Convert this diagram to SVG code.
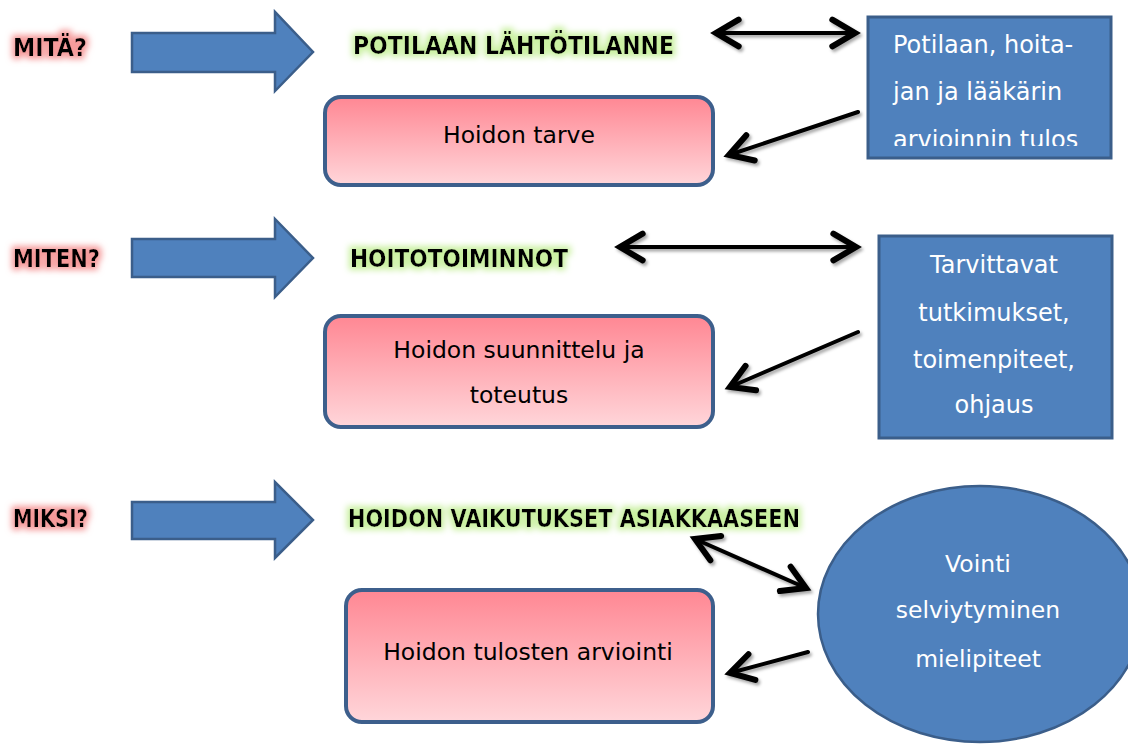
<svg xmlns="http://www.w3.org/2000/svg" width="1128" height="747" viewBox="0 0 1128 747">
<defs>
  <style>
    .lbl { font-family: "DejaVu Sans", "Liberation Sans", sans-serif; font-weight: bold; font-size: 25px; fill: #000; }
    .body { font-family: "DejaVu Sans", "Liberation Sans", sans-serif; font-size: 23.5px; fill: #000; }
    .white { font-family: "DejaVu Sans", "Liberation Sans", sans-serif; font-size: 24px; fill: #fff; }
    .pink { fill: url(#pinkGrad); stroke: #3d5f8c; stroke-width: 4; }
    .blue { fill: #4f81bd; stroke: #3b5e8a; stroke-width: 3; }
    .barrow { fill: #4f81bd; stroke: #3b5e8a; stroke-width: 2.5; stroke-linejoin: miter; }
    .conn { fill: none; stroke: #000; stroke-width: 4; stroke-linecap: round; }
  </style>
  <linearGradient id="pinkGrad" x1="0" y1="0" x2="0" y2="1">
    <stop offset="0" stop-color="#ff8793"/>
    <stop offset="1" stop-color="#ffd6da"/>
  </linearGradient>
  <filter id="glowPink" x="-20%" y="-60%" width="140%" height="220%">
    <feMorphology in="SourceAlpha" operator="dilate" radius="3" result="d"/>
    <feGaussianBlur in="d" stdDeviation="3" result="b"/>
    <feFlood flood-color="#f59a9a"/>
    <feComposite in2="b" operator="in" result="g"/>
    <feMerge><feMergeNode in="g"/><feMergeNode in="SourceGraphic"/></feMerge>
  </filter>
  <filter id="glowGreen" x="-10%" y="-60%" width="120%" height="220%">
    <feMorphology in="SourceAlpha" operator="dilate" radius="3" result="d"/>
    <feGaussianBlur in="d" stdDeviation="3" result="b"/>
    <feFlood flood-color="#c9f0a0"/>
    <feComposite in2="b" operator="in" result="g"/>
    <feMerge><feMergeNode in="g"/><feMergeNode in="SourceGraphic"/></feMerge>
  </filter>
  <filter id="shadow" x="-10%" y="-30%" width="120%" height="160%">
    <feDropShadow dx="2" dy="2.5" stdDeviation="1.5" flood-color="#000" flood-opacity="0.35"/>
  </filter>
  <marker id="head" markerUnits="userSpaceOnUse" markerWidth="40" markerHeight="40" viewBox="-25 -15 30 30" refX="0" refY="0" orient="auto-start-reverse">
    <path d="M -17 -10 L 0 0 L -17 10" fill="none" stroke="#000" stroke-width="4.5" stroke-linecap="round" stroke-linejoin="miter"/>
  </marker>
  <clipPath id="clip1">
    <rect x="870" y="18" width="240" height="128"/>
  </clipPath>
</defs>

<rect width="1128" height="747" fill="#fff"/>

<g id="row-labels">
  <text class="lbl" x="13" y="56" textLength="74" lengthAdjust="spacingAndGlyphs" filter="url(#glowPink)">MITÄ?</text>
  <text class="lbl" x="13" y="267" textLength="87" lengthAdjust="spacingAndGlyphs" filter="url(#glowPink)">MITEN?</text>
  <text class="lbl" x="13" y="527" textLength="75" lengthAdjust="spacingAndGlyphs" filter="url(#glowPink)">MIKSI?</text>
</g>

<g id="block-arrows">
  <polygon class="barrow" points="132,33 275,33 275,12 313,52 275,91 275,72 132,72"/>
  <polygon class="barrow" points="132,239 275,239 275,219 313,258 275,297 275,277 132,277"/>
  <polygon class="barrow" points="132,502 275,502 275,482 313,520 275,558 275,539 132,539"/>
</g>

<g id="titles">
  <text class="lbl" x="353" y="54" textLength="321" lengthAdjust="spacingAndGlyphs" filter="url(#glowGreen)">POTILAAN LÄHTÖTILANNE</text>
  <text class="lbl" x="350" y="267" textLength="218" lengthAdjust="spacingAndGlyphs" filter="url(#glowGreen)">HOITOTOIMINNOT</text>
  <text class="lbl" x="348" y="527" textLength="452" lengthAdjust="spacingAndGlyphs" filter="url(#glowGreen)">HOIDON VAIKUTUKSET ASIAKKAASEEN</text>
</g>

<g id="node-hoidon-tarve">
  <rect class="pink" x="325" y="97" width="388" height="88" rx="16"/>
  <text class="body" x="519" y="143" text-anchor="middle">Hoidon tarve</text>
</g>

<g id="node-suunnittelu">
  <rect class="pink" x="325" y="316" width="388" height="111" rx="16"/>
  <text class="body" x="519" y="358" text-anchor="middle">Hoidon suunnittelu ja</text>
  <text class="body" x="519" y="403" text-anchor="middle">toteutus</text>
</g>

<g id="node-tulosten-arviointi">
  <rect class="pink" x="346" y="590" width="367" height="132" rx="16"/>
  <text class="body" x="528" y="660" text-anchor="middle">Hoidon tulosten arviointi</text>
</g>

<g id="node-arvioinnin-tulos">
  <rect class="blue" x="868" y="17" width="243" height="141"/>
  <g clip-path="url(#clip1)">
    <text class="white" x="893" y="53">Potilaan, hoita-</text>
    <text class="white" x="893" y="100">jan ja lääkärin</text>
    <text class="white" x="893" y="148">arvioinnin tulos</text>
  </g>
</g>

<g id="node-tutkimukset">
  <rect class="blue" x="879" y="236" width="233" height="202"/>
  <text class="white" x="994" y="273" text-anchor="middle">Tarvittavat</text>
  <text class="white" x="994" y="321" text-anchor="middle">tutkimukset,</text>
  <text class="white" x="994" y="368" text-anchor="middle">toimenpiteet,</text>
  <text class="white" x="994" y="413" text-anchor="middle">ohjaus</text>
</g>

<g id="node-vointi">
  <ellipse cx="980" cy="614" rx="162" ry="128" fill="#4f81bd" stroke="#3b5e8a" stroke-width="2.5"/>
  <text class="white" x="978" y="572" text-anchor="middle" style="font-size:23.5px">Vointi</text>
  <text class="white" x="978" y="618" text-anchor="middle" style="font-size:23.5px">selviytyminen</text>
  <text class="white" x="978" y="667" text-anchor="middle" style="font-size:23.5px">mielipiteet</text>
</g>

<g id="connectors" filter="url(#shadow)">
  <line class="conn" x1="716" y1="33" x2="855" y2="33" marker-start="url(#head)" marker-end="url(#head)"/>
  <line class="conn" x1="858" y1="112" x2="729" y2="155" marker-end="url(#head)"/>
  <line class="conn" x1="620" y1="247" x2="856" y2="247" marker-start="url(#head)" marker-end="url(#head)"/>
  <line class="conn" x1="858" y1="332" x2="730" y2="387" marker-end="url(#head)"/>
  <line class="conn" x1="695" y1="539" x2="806" y2="588" marker-start="url(#head)" marker-end="url(#head)"/>
  <line class="conn" x1="808" y1="652" x2="730" y2="673" marker-end="url(#head)"/>
</g>
</svg>
